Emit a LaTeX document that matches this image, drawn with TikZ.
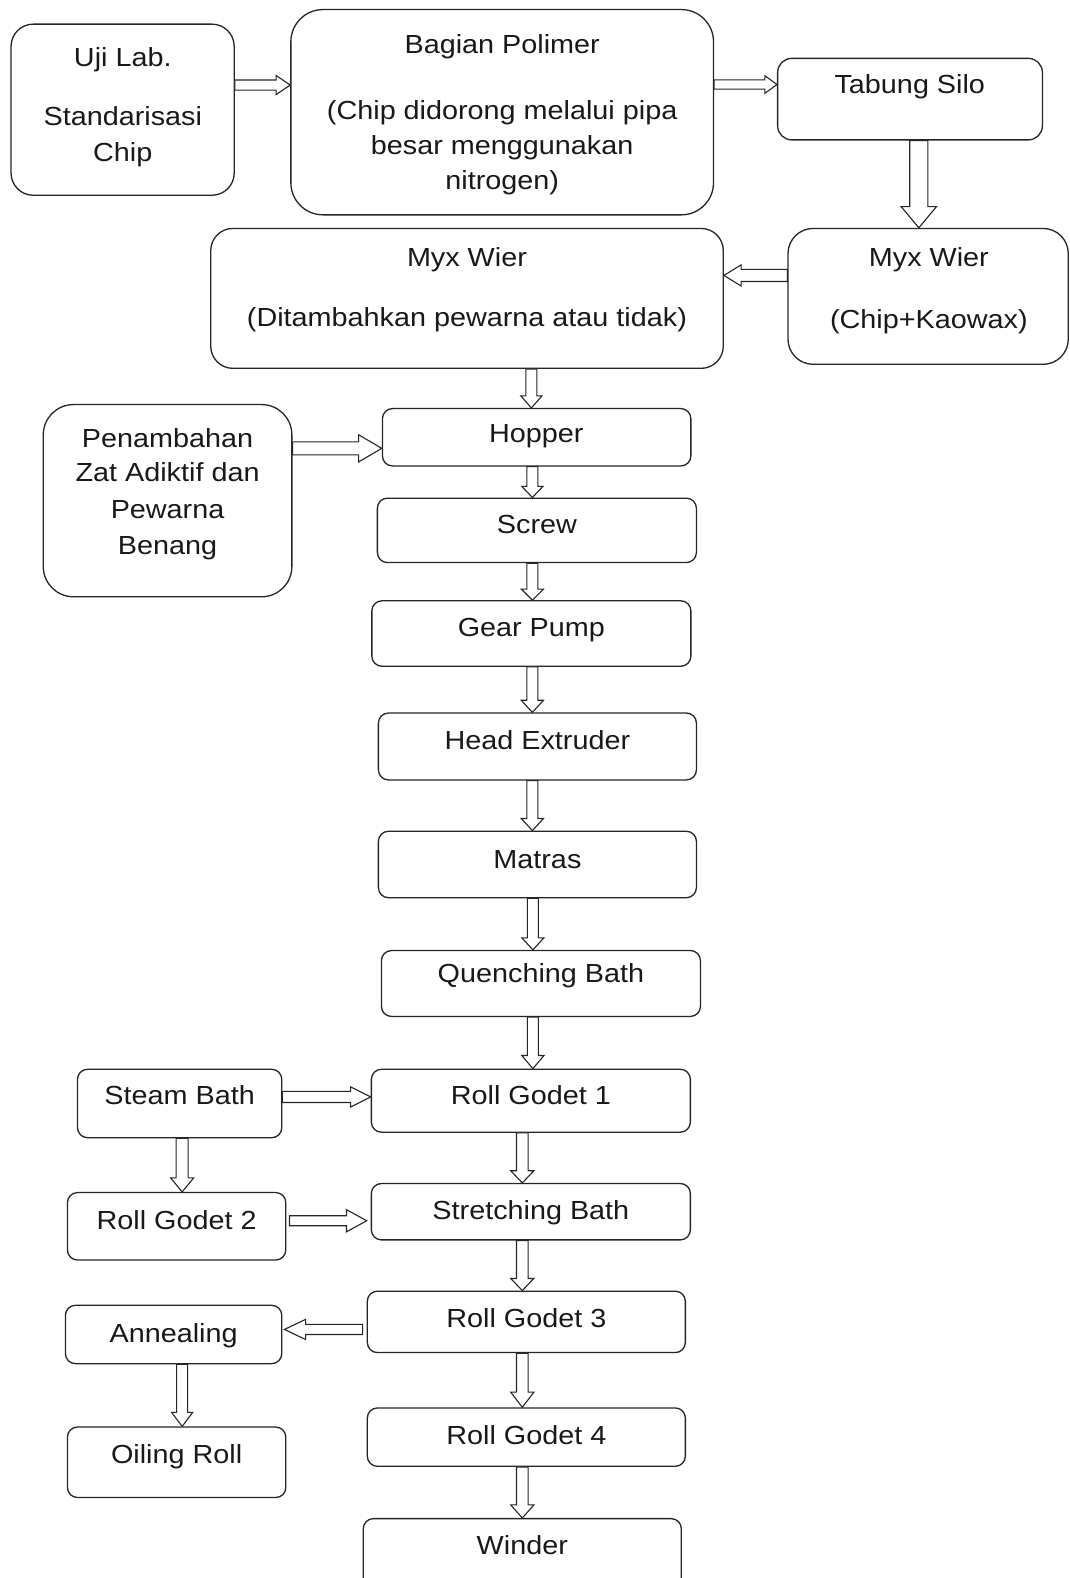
\documentclass[tikz,border=0pt]{standalone}
\usepackage{fontspec}
\setmainfont[FakeStretch=1.1]{Liberation Sans}
\usetikzlibrary{fit,calc}
\tikzset{
  box/.style={draw=black!85, line width=1.3pt, inner sep=0pt},
  txt/.style={anchor=base, inner sep=0pt, text=black!90, font=\fontsize{26pt}{36pt}\selectfont},
  barrow/.style={draw=black!85, fill=white, line width=1.1pt, line join=miter},
}
% down arrow: #1 from, #2 to, #3 x, #4 shaft half, #5 head half, #6 head length
\newcommand\arrD[6]{\draw[barrow] let \p1=(#1), \p2=(#2) in
  (#3pt-#4pt,\y1) -- (#3pt-#4pt,\y2+#6pt) -- (#3pt-#5pt,\y2+#6pt) -- (#3pt,\y2)
  -- (#3pt+#5pt,\y2+#6pt) -- (#3pt+#4pt,\y2+#6pt) -- (#3pt+#4pt,\y1) -- cycle;}
% right arrow: #3 = y
\newcommand\arrR[6]{\draw[barrow] let \p1=(#1), \p2=(#2) in
  (\x1,-#3pt+#4pt) -- (\x2-#6pt,-#3pt+#4pt) -- (\x2-#6pt,-#3pt+#5pt) -- (\x2,-#3pt)
  -- (\x2-#6pt,-#3pt-#5pt) -- (\x2-#6pt,-#3pt-#4pt) -- (\x1,-#3pt-#4pt) -- cycle;}
% left arrow
\newcommand\arrL[6]{\draw[barrow] let \p1=(#1), \p2=(#2) in
  (\x1,-#3pt+#4pt) -- (\x2+#6pt,-#3pt+#4pt) -- (\x2+#6pt,-#3pt+#5pt) -- (\x2,-#3pt)
  -- (\x2+#6pt,-#3pt-#5pt) -- (\x2+#6pt,-#3pt-#4pt) -- (\x1,-#3pt-#4pt) -- cycle;}
\begin{document}
\begin{tikzpicture}[x=1pt,y=-1pt]
\useasboundingbox (0,0) rectangle (1063,1568);
\fill[white] (0,0) rectangle (1063,1568);
\clip (0,0) rectangle (1063,1568);

% boxes
\node[box, rounded corners=22pt, fit={(11,24) (232.7,194)}] (uji) {};
\node[box, rounded corners=32pt, fit={(289,9.5) (709,213.5)}] (bagian) {};
\node[box, rounded corners=14pt, fit={(772.7,58) (1035.8,139)}] (tabung) {};
\node[box, rounded corners=25pt, fit={(783,227) (1061.5,362)}] (myxr) {};
\node[box, rounded corners=22pt, fit={(209.4,227) (718.7,366)}] (myxl) {};
\node[box, rounded corners=30pt, fit={(43,402) (290,593)}] (penam) {};
\node[box, rounded corners=10pt, fit={(380,406) (686.5,463)}] (hopper) {};
\node[box, rounded corners=10pt, fit={(375,495) (692,559)}] (screw) {};
\node[box, rounded corners=10pt, fit={(369.5,597) (686.5,662)}] (gear) {};
\node[box, rounded corners=10pt, fit={(376,708.5) (692,775)}] (headx) {};
\node[box, rounded corners=10pt, fit={(376,826) (692,892)}] (matras) {};
\node[box, rounded corners=10pt, fit={(379,944.5) (696,1010)}] (quench) {};
\node[box, rounded corners=10pt, fit={(369,1062.5) (686,1125)}] (rg1) {};
\node[box, rounded corners=10pt, fit={(77,1062.5) (280,1130.5)}] (steam) {};
\node[box, rounded corners=10pt, fit={(67,1185) (284,1252)}] (rg2) {};
\node[box, rounded corners=10pt, fit={(369,1176) (686,1232)}] (stretch) {};
\node[box, rounded corners=10pt, fit={(65,1297) (280,1355)}] (anneal) {};
\node[box, rounded corners=10pt, fit={(365,1283) (681,1344)}] (rg3) {};
\node[box, rounded corners=10pt, fit={(67,1418) (284,1488)}] (oiling) {};
\node[box, rounded corners=10pt, fit={(365,1399) (681,1457)}] (rg4) {};
\node[box, rounded corners=10pt, fit={(361,1509) (677,1600)}] (winder) {};

% texts
\node[txt] (ujiA) at (122,66) {Uji Lab.};
\node[txt] (ujiB) at (122,125) {Standarisasi};
\node[txt] (ujiC) at (122,160.6) {Chip};
\node[txt] (bagA) at (499,53) {Bagian Polimer};
\node[txt] (bagB) at (499,119) {(Chip didorong melalui pipa};
\node[txt] (bagC) at (499,154) {besar menggunakan};
\node[txt] (bagD) at (499,188) {nitrogen)};
\node[txt] (tabT) at (904,92.7) {Tabung Silo};
\node[txt] (mlA) at (464,265) {Myx Wier};
\node[txt] (mlB) at (464,324.6) {(Ditambahkan pewarna atau tidak)};
\node[txt] (mrA) at (923,265) {Myx Wier};
\node[txt] (mrB) at (923,326) {(Chip+Kaowax)};
\node[txt] (peA) at (166.5,444.4) {Penambahan};
\node[txt] (peB) at (166.5,478.5) {Zat Adiktif dan};
\node[txt] (peC) at (166.5,515) {Pewarna};
\node[txt] (peD) at (166.5,551.4) {Benang};
\node[txt] (hopT) at (533,440) {Hopper};
\node[txt] (scrT) at (533.5,530.5) {Screw};
\node[txt] (gearT) at (528,632.5) {Gear Pump};
\node[txt] (headT) at (534,745) {Head Extruder};
\node[txt] (matT) at (534,863) {Matras};
\node[txt] (queT) at (537.5,976) {Quenching Bath};
\node[txt] (rg1T) at (527.5,1097) {Roll Godet 1};
\node[txt] (steT) at (178.5,1097) {Steam Bath};
\node[txt] (rg2T) at (175.5,1222) {Roll Godet 2};
\node[txt] (strT) at (527.5,1212) {Stretching Bath};
\node[txt] (annT) at (172.5,1334) {Annealing};
\node[txt] (rg3T) at (523,1319) {Roll Godet 3};
\node[txt] (oilT) at (175.5,1454) {Oiling Roll};
\node[txt] (rg4T) at (523,1435) {Roll Godet 4};
\node[txt] (winT) at (519,1545) {Winder};

% arrows
\arrR{uji.east}{bagian.west}{84.5}{5}{9.5}{14}
\arrR{bagian.east}{tabung.west}{84}{4.6}{8.7}{12}
\arrD{tabung.south}{myxr.north}{913}{9}{17.5}{21}
\arrL{myxr.west}{myxl.east}{273.7}{6}{10.5}{17}
\arrD{myxl.south}{hopper.north}{528}{5.5}{10.5}{12}
\arrR{penam.east}{hopper.west}{445.5}{6.5}{13.5}{23}
\arrD{hopper.south}{screw.north}{529}{5.5}{10.5}{11}
\arrD{screw.south}{gear.north}{529}{5.5}{11}{11}
\arrD{gear.south}{headx.north}{529}{5.5}{11}{12}
\arrD{headx.south}{matras.north}{529}{5.5}{11}{12}
\arrD{matras.south}{quench.north}{529.5}{5.5}{11}{12}
\arrD{quench.south}{rg1.north}{529.5}{5.5}{11}{13}
\arrD{rg1.south}{stretch.north}{519}{5.8}{11.5}{12}
\arrD{stretch.south}{rg3.north}{519}{5.8}{11.5}{12}
\arrD{rg3.south}{rg4.north}{519}{5.8}{11.5}{15}
\arrD{rg4.south}{winder.north}{519}{5.8}{11.5}{13}
\arrR{steam.east}{rg1.west}{1090}{5.5}{10}{20}
\arrD{steam.south}{rg2.north}{181}{6}{11.5}{14}
\arrR{[xshift=3pt]rg2.east}{[xshift=-4pt]stretch.west}{1213}{5}{11}{20}
\arrL{[xshift=-4pt]rg3.west}{[xshift=2pt]anneal.east}{1321}{5}{10}{21}
\arrD{anneal.south}{oiling.north}{181}{5.5}{10.5}{14}
\end{tikzpicture}
\end{document}
